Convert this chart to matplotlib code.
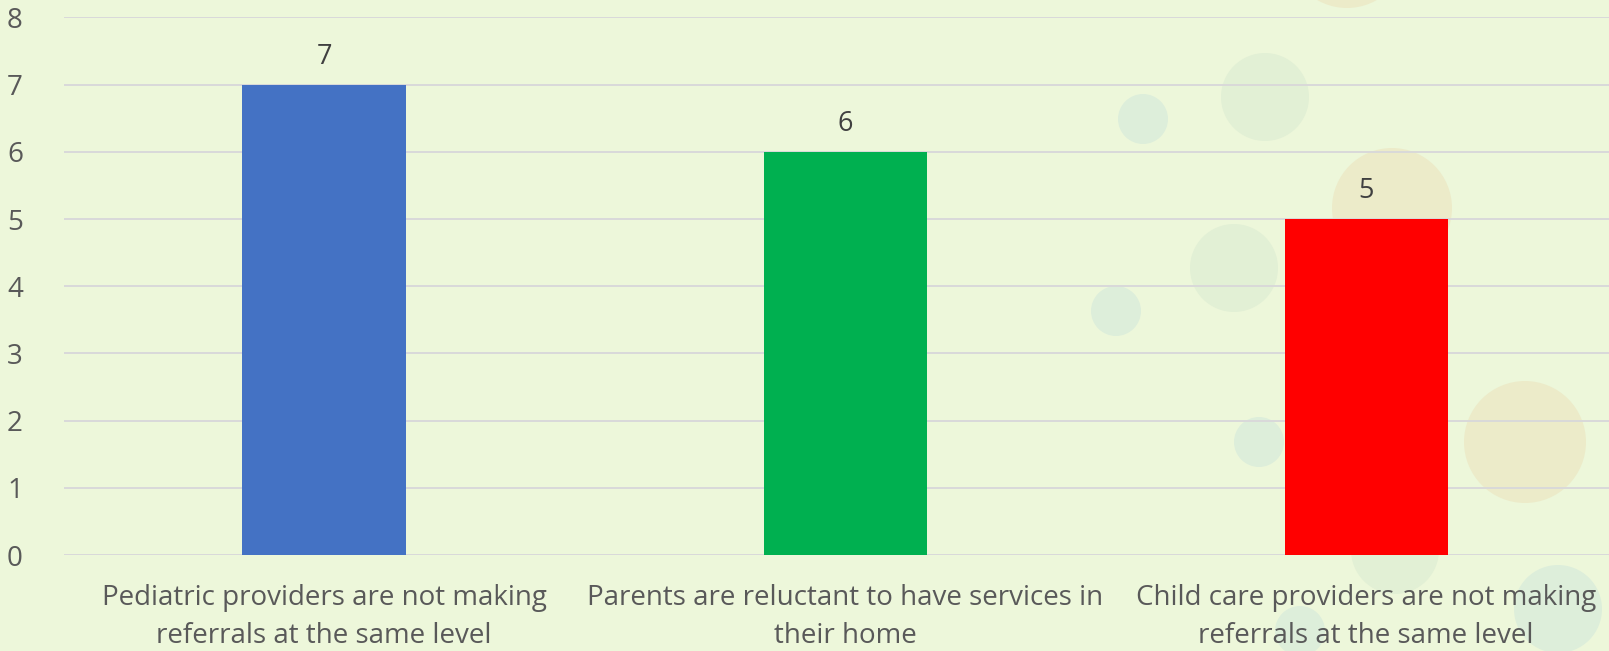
import matplotlib.pyplot as plt
from matplotlib.patches import Circle

categories = [
    "Pediatric providers are not making\nreferrals at the same level",
    "Parents are reluctant to have services in\ntheir home",
    "Child care providers are not making\nreferrals at the same level",
]
counts = [7, 6, 5]
bar_colors = ["#4472C4", "#00B050", "#FF0000"]
y_ticks = [0, 1, 2, 3, 4, 5, 6, 7, 8]

plt.rcParams["font.family"] = ["Open Sans", "DejaVu Sans"]
text_color = "#595959"
bg_color = "#EDF7DA"

W, H = 1609, 651
fig = plt.figure(figsize=(W / 100, H / 100), dpi=100, facecolor=bg_color)

# decorative bubbles behind the plot (pixel coordinates, y down)
deco = fig.add_axes([0, 0, 1, 1], zorder=0)
deco.set_xlim(0, W)
deco.set_ylim(H, 0)
deco.axis("off")
bubbles = [
    (1347, -52, 60, "#ECEBC9"),
    (1265, 97, 44, "#E2F0D5"),
    (1143, 119, 25, "#DDEEDA"),
    (1392, 208, 60, "#ECEBC9"),
    (1234, 268, 44, "#E2F0D5"),
    (1116, 311, 25, "#DDEEDA"),
    (1259, 442, 25, "#DDEEDA"),
    (1525, 442, 61, "#ECEBC9"),
    (1395, 550, 44, "#E2F0D5"),
    (1558, 609, 44, "#DDEEDA"),
    (1300, 631, 25, "#DDEEDA"),
]
for cx, cy, r, c in bubbles:
    deco.add_patch(Circle((cx, cy), r, color=c, lw=0))

ax = fig.add_axes([63.5 / W, 1 - 555 / H, 1 - 63.5 / W, (555 - 17.4) / H], zorder=1)
ax.set_facecolor("none")

x = range(len(categories))
bars = ax.bar(x, counts, width=0.313, color=bar_colors, zorder=3)
for b, v in zip(bars, counts):
    ax.annotate(str(v), (b.get_x() + b.get_width() / 2, v), xytext=(0, 10),
                textcoords="offset points", ha="center", va="bottom",
                fontsize=19.5, color="#404040")

ax.set_xlim(-0.5, 2.466)
ax.set_ylim(0, 8)
ax.set_yticks(y_ticks)
ax.set_xticks(list(x))
ax.set_xticklabels(categories, fontsize=20, color=text_color, linespacing=1.48)
ax.tick_params(axis="y", labelsize=20, labelcolor=text_color, length=0, pad=35)
ax.tick_params(axis="x", length=0, pad=21)
for lab in ax.get_yticklabels():
    lab.set_horizontalalignment("center")
ax.yaxis.grid(True, color="#D9D9D9", lw=1.4, zorder=0)
for s in ax.spines.values():
    s.set_visible(False)

fig.savefig("out.png", dpi=100, facecolor=bg_color)
